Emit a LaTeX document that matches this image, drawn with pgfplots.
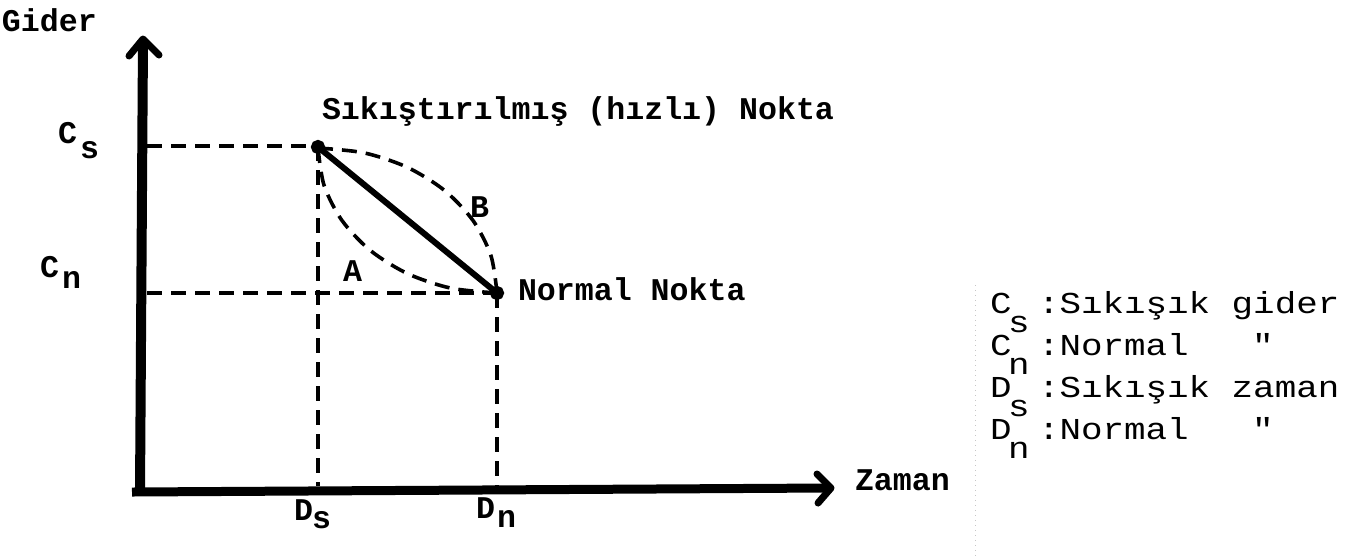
\documentclass[border=0pt]{standalone}
\usepackage{fontspec}
\usepackage{pgfplots}
\pgfplotsset{compat=1.18}
\newfontfamily\tw{Liberation Mono}
\newfontfamily\twl[FakeStretch=1.18]{Liberation Mono}
\newcommand\lab{\tw\bfseries\fontsize{15.8}{18}\selectfont}
\newcommand\leg{\twl\fontsize{15.2}{18}\selectfont}
\tikzset{lb/.style={inner sep=0pt, outer sep=0pt, anchor=base west, font=\lab},
         lg/.style={inner sep=0pt, outer sep=0pt, anchor=base west, font=\leg}}
\begin{document}
\begin{tikzpicture}
\begin{axis}[
  scale only axis, width=674pt, height=279pt,
  xmin=0, xmax=1348, ymin=0, ymax=558, y dir=reverse,
  hide axis, clip=false]
% page extent
\addplot[draw=none] coordinates {(0,0) (1348,558)};
% faint scan line
\addplot[gray!45, dotted, line width=0.5pt] coordinates {(975,285) (975,558)};
% dashed guide lines
\addplot[black, line width=1.8pt, dash pattern=on 7.5pt off 4.5pt] coordinates {(147,146) (318,146)};
\addplot[black, line width=1.8pt, dash pattern=on 7.5pt off 4.5pt] coordinates {(147,293) (497,293)};
\addplot[black, line width=1.8pt, dash pattern=on 7.5pt off 4.5pt] coordinates {(318,146) (318,486)};
\addplot[black, line width=1.8pt, dash pattern=on 7.5pt off 4.5pt] coordinates {(497,293) (497,486)};
% curve B
\addplot[black, line width=1.8pt, dash pattern=on 7.5pt off 4.5pt, smooth] coordinates {
 (318,148) (364.3,152.9) (407.5,167.4) (444.6,190.5) (473,220.5) (490.9,255.5) (497,293)};
% curve A
\addplot[black, line width=1.8pt, dash pattern=on 7.5pt off 4.5pt, smooth] coordinates {
 (318,148) (324.1,185.5) (342,220.5) (370.4,250.5) (407.5,273.6) (450.7,288.1) (497,293)};
% solid diagonal
\addplot[black, line width=3pt, mark=*, mark size=2pt] coordinates {(318,147) (497,293)};
% axes
\addplot[black, line width=5pt] coordinates {(140,492) (143,40)};
\addplot[black, line width=3.5pt, line join=round, line cap=round] coordinates {(129,56) (143,39) (159,55)};
\addplot[black, line width=4.5pt] coordinates {(132,492) (828,488)};
\addplot[black, line width=3.5pt, line join=round, line cap=round] coordinates {(817,474) (831,488) (818,503)};
% labels
\node[lb] at (axis cs:2,31) {Gider};
\node[lb] at (axis cs:58,143) {C};
\node[lb] at (axis cs:80,158) {s};
\node[lb] at (axis cs:40,277) {C};
\node[lb] at (axis cs:62,288) {n};
\node[lb] at (axis cs:294,520) {D};
\node[lb] at (axis cs:312,528) {s};
\node[lb] at (axis cs:476,518) {D};
\node[lb] at (axis cs:497,527) {n};
\node[lb] at (axis cs:322,119) {Sıkıştırılmış (hızlı) Nokta};
\node[lb] at (axis cs:470,217) {B};
\node[lb] at (axis cs:343,281) {A};
\node[lb] at (axis cs:518,300) {Normal Nokta};
\node[lb] at (axis cs:855,490) {Zaman};
% legend
\node[lg] at (axis cs:990,313) {C};
\node[lg] at (axis cs:1008,332) {s};
\node[lg] at (axis cs:1038,313) {:Sıkışık gider};
\node[lg] at (axis cs:990,355) {C};
\node[lg] at (axis cs:1008,374) {n};
\node[lg] at (axis cs:1038,355) {:Normal};
\node[lg] at (axis cs:1252,355) {"};
\node[lg] at (axis cs:990,397) {D};
\node[lg] at (axis cs:1008,416) {s};
\node[lg] at (axis cs:1038,397) {:Sıkışık zaman};
\node[lg] at (axis cs:990,439) {D};
\node[lg] at (axis cs:1008,458) {n};
\node[lg] at (axis cs:1038,439) {:Normal};
\node[lg] at (axis cs:1252,439) {"};
\end{axis}
\end{tikzpicture}
\end{document}
